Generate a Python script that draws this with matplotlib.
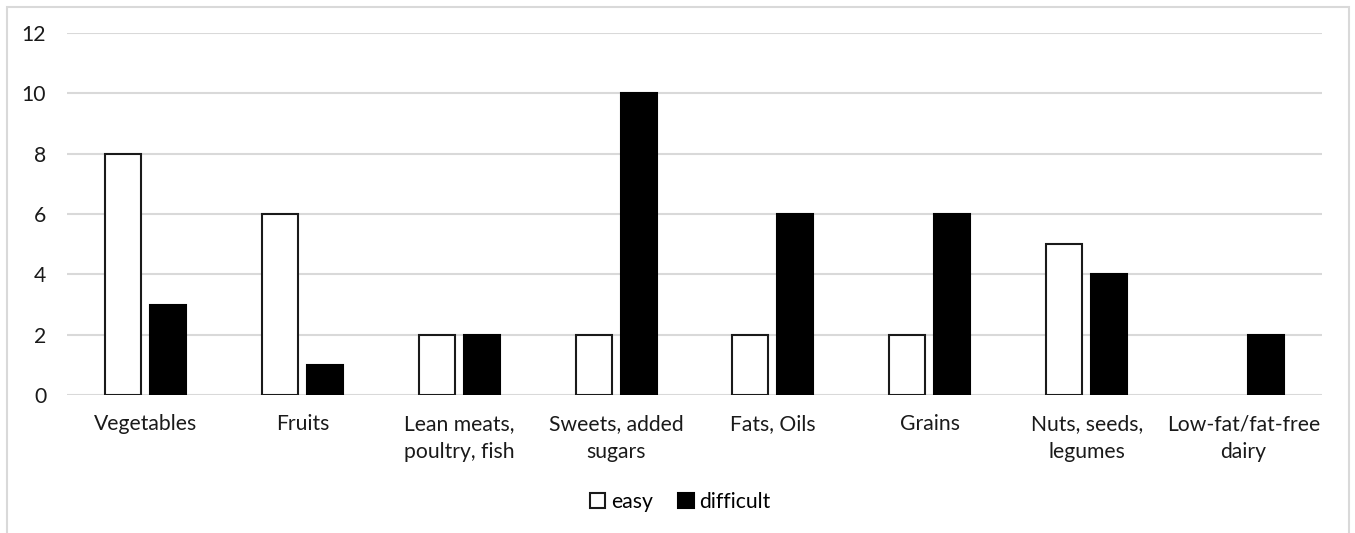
import matplotlib
matplotlib.use("Agg")
import matplotlib.pyplot as plt
import numpy as np
from matplotlib.patches import Rectangle

plt.rcParams['font.family'] = ['Lato', 'DejaVu Sans']

categories = ["Vegetables", "Fruits", "Lean meats,\npoultry, fish", "Sweets, added\nsugars",
              "Fats, Oils", "Grains", "Nuts, seeds,\nlegumes", "Low-fat/fat-free\ndairy"]
easy = [8, 6, 2, 2, 2, 2, 5, 0]
difficult = [3, 1, 2, 10, 6, 6, 4, 2]
yticks = [0, 2, 4, 6, 8, 10, 12]

W, H = 1355, 533
fs = 15.2
fig = plt.figure(figsize=(W / 100, H / 100), dpi=100)
ax = fig.add_axes([67 / W, 1 - 395 / H, (1322 - 67) / W, (395 - 33) / H])

x = np.arange(len(categories))
bw = 0.23
gap = 0.057
b1 = ax.bar(x - (bw + gap) / 2, easy, bw, color='white', edgecolor='#1a1a1a', linewidth=1.5,
            label='easy', zorder=3)
b2 = ax.bar(x + (bw + gap) / 2, difficult, bw, color='black', edgecolor='black', linewidth=1.5,
            label='difficult', zorder=3)
# empty bars leave no outline
for bars, vals in ((b1, easy), (b2, difficult)):
    for r, v in zip(bars, vals):
        if v == 0:
            r.set_visible(False)

ax.set_xlim(-0.5, len(categories) - 0.5)
ax.set_ylim(0, 12)
ax.set_yticks(yticks)
ax.set_xticks(x)
ax.set_xticklabels(categories, fontsize=fs, color='#1a1a1a', linespacing=1.45)
ax.tick_params(axis='y', length=0, pad=15, labelsize=fs, labelcolor='#1a1a1a')
ax.tick_params(axis='x', length=0, pad=14)
ax.grid(axis='y', color='#d9d9d9', linewidth=1.5, zorder=0)
for s in ax.spines.values():
    s.set_visible(False)

leg = ax.legend(loc='center', bbox_to_anchor=(680 / W, 1 - 502 / H), bbox_transform=fig.transFigure,
                ncol=2, frameon=False, fontsize=fs, handlelength=0.75, handleheight=0.75,
                handletextpad=0.25, columnspacing=1.2)

# light frame round the chart
fig.patches.append(Rectangle((6.5 / W, -0.05), (1349 - 6.5) / W, 1 - 6.5 / H + 0.05,
                             transform=fig.transFigure, fill=False, edgecolor='#d9d9d9',
                             linewidth=1.5))

fig.savefig("out.png", dpi=100)
